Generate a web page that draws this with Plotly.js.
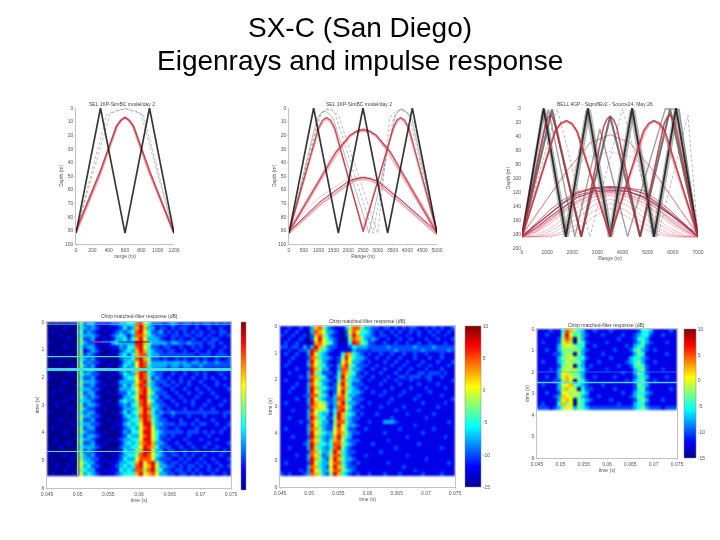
<!DOCTYPE html>
<html><head><meta charset="utf-8">
<script src="https://cdn.plot.ly/plotly-3.0.1.min.js"></script>
<style>html,body{margin:0;padding:0;background:#fff}
.main-svg .cartesianlayer{filter:blur(0.55px)}
.main-svg .heatmaplayer image{filter:blur(0.8px)}
</style></head>
<body><div id="c" style="width:720px;height:540px"></div>
<script>
// ---------- eigenray panels: range / depth ----------
const a_black_x=[0,300,600,900,1200], a_black_y=[92,0,92,0,92];
const a_dash1_x=[0,420,600,795,1200], a_dash1_y=[91,4,0.5,4,92];
const a_dash2_x=[0,375,480,600,720,825,1200], a_dash2_y=[91,5,2,0.5,2,5,92];
const a_red1_x=[0,294,498,550,600,650,702,906,1200], a_red1_y=[90,47,13,9,7,9,13,47,92];
const a_red2_x=[0,294,498,550,600,650,702,906,1200], a_red2_y=[92,49,14,9,7,9,14,49,92];

const b_black_x=[0,833,1667,2500,3333,4167,5000], b_black_y=[92,0,92,0,92,0,92];
const b_gray1_x=[0,989,1130,1270,1410,1551,2843,3517,3650,3775,3900,4056,5000], b_gray1_y=[92,8,3,0.5,1,4,92,8,3,0.5,2,5,92];
const b_gray2_x=[0,1050,1200,1350,1500,1680,3000,3400,3570,3750,3950,4250,5000], b_gray2_y=[92,6,2,1,2,6,92,7,3,1,3,12,92];
const b_gray3_x=[0,930,1060,1200,1340,1500,2700,3600,3720,3850,3980,4150,5000], b_gray3_y=[92,9,4,2,4,8,92,5,2,1,3,8,92];
const b_redA_x=[0,989,1130,1270,1410,1551,2506,3517,3640,3775,3910,4056,5000], b_redA_y=[91,15,9,7,9,15,91,15,9,7,9,15,91];
const b_redA2_x=[0,1020,1150,1270,1390,1520,2506,3540,3660,3775,3890,4020,5000], b_redA2_y=[92,15,10,8,10,15,89,15,10,8,10,15,92];
const b_redB_x=[0,1607,2056,2280,2506,2730,2955,3404,5000], b_redB_y=[91,32,20,17,16,17,20,32,92];
const b_redB2_x=[0,1550,2056,2280,2506,2730,2955,3450,5000], b_redB2_y=[90,33,21,18,17,18,21,33,90];
const b_redB3_x=[0,1650,2056,2280,2506,2730,2955,3350,5000], b_redB3_y=[92,33,21,17,15,17,21,33,93];
const b_redC_x=[0,1045,2000,2250,2506,2760,3011,3854,5000], b_redC_y=[91,69,54,52,51,52,54,69,91];
const b_redC2_x=[0,1045,2000,2250,2506,2760,3011,3854,5000], b_redC2_y=[92,71,56,53,52,53,56,71,93];
const b_redC3_x=[0,1000,1900,2250,2506,2850,3200,4100,5000], b_redC3_y=[88,66,53,51,50,52,56,74,92];

const c_blackA_x=[0,860,1746,2620,3506,4379,5252,6125,7000], c_blackA_y=[184,0,184,0,184,0,184,0,184];
const c_blackA2_x=[0,900,1800,2680,3560,4440,5300,6180,7000], c_blackA2_y=[184,2,184,2,184,2,184,2,184];
const c_blackA3_x=[0,820,1690,2560,3450,4320,5200,6070,7000], c_blackA3_y=[184,3,184,3,184,3,184,3,184];
const c_blackB_x=[0,1190,2355,3506,4697,5887,7000], c_blackB_y=[184,2,184,12,184,2,184];
const c_blackC_x=[0,1050,2100,3100,4200,5700,6250,7000], c_blackC_y=[184,2,184,30,184,1,2,184];
const c_gray1_x=[0,1400,2700,4000,5400,6600,7000], c_gray1_y=[184,1,184,1,184,10,184];
const c_redF_x=[0,940,1030,1125,1220,1310,2355,3250,3380,3506,3630,3760,4697,5640,5760,5870,5990,6100,7000], c_redF_y=[184,24,14,10,14,24,184,26,16,12,16,26,184,24,14,10,14,24,184];
const c_redE_x=[0,1323,1540,1760,1980,2183,3506,4829,5040,5252,5470,5689,7000], c_redE_y=[184,33,22,18,22,33,184,33,22,18,22,33,184];
const c_redE2_x=[0,1290,1530,1760,1990,2210,3506,4860,5060,5252,5450,5650,7000], c_redE2_y=[184,35,23,19,23,35,182,35,23,19,23,35,184];
const c_redG_x=[0,1786,2700,3506,4300,5225,7000], c_redG_y=[181,90,50,38,50,90,181];
const c_redH_x=[0,1500,2500,3506,4500,5500,7000], c_redH_y=[184,104,72,62,72,104,184];
const fan_x=[0,600,1125,1650,2183,2850,3506,4170,4829,5350,5887,6450,7000];
const fan1_y=[184,166,150,135,122,115,113,115,122,135,150,166,184];
const fan2_y=[184,170,155,141,128,120,118,119,126,138,152,168,184];
const fan3_y=[184,163,145,131,120,114,112,114,118,131,146,165,184];
const fan4_y=[184,174,160,143,128,119,116,119,128,143,160,174,184];
const fan5_y=[184,177,165,150,135,123,118,123,135,150,165,177,184];
const fan6_y=[184,181,172,158,142,127,120,127,140,158,172,181,184];
const fan7_y=[184,183,176,164,150,132,125,132,148,164,176,183,184];
const fan8_y=[184,184,180,170,158,139,130,139,156,170,180,184,184];
const fan9_y=[184,184,183,176,166,147,136,147,165,176,182,184,184];
const fan10_y=[184,184,184,180,174,155,143,155,172,180,184,184,184];
const fan11_y=[184,172,158,146,133,123,121,123,131,144,157,171,184];
const fan12_y=[184,176,162,148,137,127,124,126,136,148,162,175,184];
const fanBlue_y=[182,165,150,136,125,118,115,118,128,140,152,167,180];

// ---------- matched-filter maps: colour level 0..10 (2.5 dB a step from -15 dB) read cell by cell ----------
const h1 = [
[0,0,1,0,0,0,1,0, 5, 2,3,3,1, 1,1,1,2,2, 3,3,4,4, 8,9,6,4,2, 2,2,1,2,3,2,1,2,2,1,2,1,2,2,1,2,1,2,1],
[0,0,0,0,1,0,0,0, 4, 3,2,3,2, 1,0,1,1,1, 2,4,2,3, 7,9,7,3,3, 1,2,2,1,2,1,2,2,1,1,2,1,1,2,1,1,2,1,1],
[0,1,0,0,0,0,0,1, 5, 2,3,2,1, 0,1,0,1,2, 3,2,3,4, 8,9,6,4,2, 2,3,1,2,1,2,1,2,1,2,1,2,1,1,2,1,2,2,1],
[0,0,0,1,0,0,0,0, 4, 3,3,3,2, 1,0,1,2,3, 4,3,1,3, 8,8,7,4,3, 2,2,2,1,2,2,1,2,2,1,2,2,1,2,1,1,2,1,2],
[0,0,0,0,0,1,0,0, 5, 2,2,3,1, 0,1,0,1,3, 3,4,2,4, 7,9,6,3,3, 3,2,1,1,2,1,2,1,1,2,1,1,2,1,2,2,1,1,1],
[1,0,0,0,0,0,0,0, 5, 3,2,2,1, 1,1,1,3,4, 3,3,3,3, 9,9,7,5,3, 3,3,3,2,3,3,2,2,3,2,2,2,1,2,2,1,2,1,1],
[0,0,0,0,1,0,0,1, 4, 2,3,3,1, 0,0,1,1,1, 3,2,4,4, 8,9,6,4,2, 2,1,2,2,1,1,2,1,1,2,1,2,1,1,2,1,1,2,1],
[0,0,0,0,0,0,0,0, 5, 1,2,3,2, 1,0,0,1,0, 2,3,4,3, 7,9,7,4,3, 2,2,1,2,2,1,1,2,1,1,2,1,1,2,1,1,2,1,1],
[0,1,0,0,0,1,0,0, 5, 2,3,2,1, 0,0,1,0,1, 3,4,2,4, 7,8,8,4,3, 3,2,2,2,2,2,2,2,2,2,1,2,2,2,1,2,2,2,1],
[0,0,0,0,0,0,0,0, 4, 3,2,3,1, 0,1,0,0,0, 2,3,3,4, 8,9,7,5,2, 2,1,2,1,1,2,1,2,1,1,2,1,2,1,1,2,1,1,2],
[0,0,0,1,0,0,0,0, 5, 2,3,2,2, 1,0,0,1,0, 1,3,4,3, 6,9,8,5,3, 3,3,3,3,3,3,3,3,2,3,3,2,3,2,2,3,2,2,2],
[0,0,0,0,0,0,1,0, 5, 3,2,3,1, 0,0,1,0,0, 2,4,3,3, 6,9,8,4,3, 3,3,3,2,3,3,2,3,3,2,2,3,2,2,2,2,2,2,2],
[0,0,1,0,0,0,0,0, 4, 2,3,3,1, 0,1,0,0,1, 3,3,2,4, 7,8,9,5,3, 2,2,2,1,2,2,1,2,1,2,2,1,2,1,1,2,1,2,1],
[0,0,0,0,0,1,0,0, 5, 3,3,2,2, 1,0,0,1,0, 2,4,3,3, 7,9,8,4,3, 2,2,1,1,2,1,1,2,1,1,2,1,2,1,1,1,2,1,1],
[1,0,0,0,0,0,0,0, 4, 2,2,3,1, 0,0,1,0,0, 1,3,4,4, 6,9,8,5,2, 3,2,1,2,1,1,2,1,1,2,1,1,2,1,2,1,1,2,1],
[0,0,0,0,1,0,0,0, 5, 3,3,3,2, 1,0,0,0,1, 3,3,3,3, 6,8,9,5,3, 2,2,2,1,2,1,2,1,2,1,1,2,1,1,1,2,1,1,1],
[0,0,0,0,0,0,0,1, 5, 2,2,3,1, 0,1,0,1,0, 2,4,2,4, 7,9,8,4,3, 2,1,2,2,1,2,1,1,2,1,1,1,2,1,1,2,1,2,1],
[0,0,0,1,0,0,0,0, 4, 3,3,2,2, 1,0,0,0,0, 3,3,3,4, 6,8,9,6,3, 3,2,1,1,2,1,1,2,1,1,2,1,1,2,1,1,1,1,2],
[0,1,0,0,0,0,0,0, 5, 2,3,3,1, 0,0,1,0,1, 2,2,4,3, 5,8,9,6,4, 2,2,2,1,1,2,1,1,2,1,1,2,1,1,2,1,1,1,1],
[0,0,0,0,0,0,1,0, 5, 3,2,3,2, 1,0,0,0,0, 1,3,3,4, 6,9,9,5,3, 3,1,2,2,1,1,2,1,1,1,2,1,1,1,1,2,1,1,1],
[0,0,0,0,1,0,0,0, 4, 3,3,2,1, 0,0,1,0,0, 3,4,3,3, 5,8,9,6,4, 2,2,1,1,2,1,1,2,1,2,1,1,1,2,1,1,1,2,1],
[0,0,1,0,0,0,0,0, 5, 2,3,3,2, 1,0,0,0,1, 2,3,2,4, 5,8,9,7,3, 3,2,2,1,1,2,1,1,1,2,1,1,2,1,1,1,2,1,1],
[0,0,0,0,0,1,0,0, 5, 3,2,2,1, 0,1,0,0,0, 1,3,3,3, 4,7,9,8,4, 3,2,1,2,1,1,1,2,1,1,1,2,1,1,2,1,1,1,1],
[1,0,0,0,0,0,0,0, 4, 2,3,3,1, 0,0,0,1,0, 2,4,2,4, 5,7,9,7,4, 2,3,2,2,3,2,2,2,2,2,2,2,2,2,2,2,1,2,2],
[0,0,0,0,0,0,0,1, 5, 3,3,2,2, 1,0,0,0,0, 1,3,4,3, 4,8,9,8,4, 3,2,1,1,2,1,1,1,2,1,1,1,2,1,1,1,1,2,1],
[0,0,0,1,0,0,0,0, 5, 2,2,3,1, 0,0,1,0,0, 1,2,3,4, 4,7,9,8,5, 3,2,2,1,1,1,2,1,1,1,2,1,1,1,2,1,1,1,1],
[0,0,0,0,0,0,1,0, 4, 3,3,2,2, 1,0,0,0,1, 1,3,4,3, 4,6,9,9,5, 3,3,2,2,2,1,2,2,1,2,1,2,2,1,1,2,1,1,2],
[0,1,0,0,0,0,0,0, 5, 2,3,3,1, 0,0,0,1,0, 1,2,3,4, 3,6,8,9,6, 3,2,2,1,1,2,1,1,1,1,2,1,1,1,1,1,1,2,1],
[0,0,0,0,1,0,0,0, 5, 3,2,2,1, 0,1,0,0,0, 1,3,2,4, 4,6,9,9,6, 4,3,2,2,2,2,2,1,2,2,2,1,2,1,2,1,2,1,1],
[0,0,0,0,0,0,0,0, 4, 2,3,3,2, 1,0,0,0,0, 1,2,4,3, 3,6,8,9,6, 4,2,2,1,2,1,1,1,2,1,1,1,1,2,1,1,1,1,1],
[0,0,1,0,0,0,0,1, 5, 3,3,2,1, 0,0,1,0,1, 2,3,3,4, 4,6,9,9,6, 4,2,1,2,1,1,1,2,1,1,1,2,1,1,1,2,1,1,1],
[0,0,0,0,0,1,0,0, 5, 2,2,3,1, 0,1,0,0,0, 1,3,4,3, 4,7,8,9,7, 3,3,2,1,1,2,1,1,2,1,1,1,1,2,1,1,1,1,2],
[0,0,0,1,0,0,0,0, 4, 3,3,3,2, 1,0,0,0,0, 2,3,3,4, 4,6,9,8,7, 4,2,2,2,1,1,2,1,1,2,1,1,2,1,1,2,1,1,1],
[1,0,0,0,0,0,0,0, 5, 2,3,2,1, 0,0,1,0,1, 1,4,3,3, 5,7,9,9,6, 3,3,1,2,2,1,1,2,1,1,2,1,1,1,2,1,1,2,1],
[0,0,0,0,1,0,0,0, 5, 3,2,3,1, 1,0,0,1,0, 2,3,4,4, 5,8,9,8,6, 4,3,2,1,2,2,1,2,1,2,1,1,2,1,1,1,2,1,1],
[0,1,0,0,0,0,1,0, 5, 3,3,2,2, 0,1,0,0,1, 2,4,3,3, 6,8,8,8,6, 3,2,2,2,1,1,2,1,2,1,1,2,1,1,2,1,1,1,2],
[0,0,0,0,0,0,0,0, 6, 4,3,3,1, 1,0,1,1,1, 3,3,4,4, 7,9,6,8,9, 5,3,2,1,2,2,1,2,1,1,2,1,2,1,1,2,1,1,1],
[0,0,1,0,0,1,0,0, 6, 3,4,2,2, 1,0,0,1,2, 3,4,3,4, 8,9,6,7,9, 6,3,3,2,2,1,2,1,2,2,1,2,1,2,1,1,2,1,2],
[0,0,0,0,1,0,0,1, 5, 4,3,3,1, 0,1,1,1,1, 4,3,4,3, 8,8,5,8,9, 5,4,2,2,1,2,2,1,2,1,2,1,1,2,1,2,1,1,1],
[0,1,0,0,0,0,1,0, 6, 3,4,3,2, 1,0,1,1,2, 3,4,4,4, 7,9,6,7,8, 6,3,3,2,2,1,2,2,1,2,1,2,1,1,2,1,1,2,1]
];
const h2 = [
[1,1,2,1,1,2,1, 1,3,7,8,5,3, 2,1,1,1,3,5,8,8,5,3,3,2, 2,1,2,2,1,2,1,2,1,2,2,1,1,2,1,2,1,2,1,1,2],
[1,2,1,1,2,1,1, 0,3,8,7,6,3, 3,2,1,0,2,6,8,6,4,4,3,2, 1,2,1,1,2,1,2,1,1,2,1,2,1,1,2,1,2,1,1,2,1],
[2,1,1,2,1,1,2, 0,2,7,8,5,4, 2,1,1,0,2,5,9,7,4,3,3,2, 1,2,2,1,1,2,1,1,2,1,1,2,1,1,1,2,1,1,2,1,1],
[1,1,2,1,1,2,1, 0,2,6,9,6,4, 3,2,1,0,1,5,8,7,5,3,2,3, 2,1,1,2,1,1,2,1,1,2,1,1,1,2,1,1,2,1,1,1,2],
[1,2,1,1,2,1,1, 0,1,7,8,6,5, 4,2,1,0,1,4,9,8,5,4,2,2, 1,1,2,1,1,2,1,1,2,1,1,2,1,1,2,1,1,1,2,1,1],
[2,2,1,2,2,1,3, 1,3,9,7,5,3, 2,2,1,1,1,2,4,3,3,3,2,2, 2,2,2,3,2,2,2,2,2,2,3,2,2,2,2,3,2,2,2,2,2],
[1,1,2,1,1,2,2, 3,9,8,5,4,3, 2,1,1,1,1,1,3,2,2,2,1,2, 2,2,2,2,2,3,2,2,2,2,2,2,3,2,2,2,2,2,2,3,2],
[1,2,1,1,2,1,1, 3,9,6,4,3,2, 1,1,1,4,8,7,4,3,2,1,2,1, 1,2,1,1,2,1,1,2,1,1,2,1,1,2,1,1,1,2,1,1,1],
[1,1,1,2,1,1,1, 2,8,7,4,3,3, 2,1,2,5,9,6,4,3,3,2,1,1, 2,1,1,2,1,1,2,1,1,1,2,1,1,1,2,1,1,2,1,1,1],
[1,1,2,1,1,1,1, 3,9,6,5,3,2, 1,1,2,6,8,6,3,3,2,1,2,1, 1,1,2,1,1,2,1,1,2,1,1,1,2,1,1,1,2,1,1,1,2],
[1,2,1,1,1,1,1, 3,8,6,4,4,2, 2,1,3,7,9,5,4,2,2,2,1,1, 2,1,1,1,2,1,1,2,1,1,1,2,1,1,2,1,1,1,1,2,1],
[1,1,1,1,2,1,1, 2,9,7,5,3,3, 1,1,3,8,8,5,3,3,2,1,1,2, 1,1,2,1,1,1,2,1,1,2,1,1,1,2,1,1,1,2,1,1,1],
[1,1,2,1,1,1,1, 3,9,5,4,2,2, 2,1,4,8,7,5,4,2,1,2,1,1, 1,2,1,1,1,2,1,1,2,1,1,2,2,1,2,2,2,1,2,1,1],
[1,1,1,1,1,2,1, 3,8,7,5,4,2, 1,2,4,9,6,4,3,2,2,1,1,2, 1,1,1,2,1,1,2,2,1,2,2,2,1,2,2,1,1,2,1,1,1],
[1,2,1,1,1,1,1, 2,9,6,4,3,3, 2,1,5,8,7,4,3,3,1,1,2,1, 1,1,2,1,1,2,1,1,1,2,1,1,1,1,2,1,1,1,1,1,2],
[1,1,1,1,2,1,1, 3,8,6,5,3,2, 1,2,5,9,6,4,2,2,2,1,1,1, 1,2,1,1,1,1,2,1,1,1,1,2,1,1,1,1,2,1,1,1,1],
[1,1,1,2,1,1,1, 3,9,7,4,4,3, 2,2,6,8,7,4,3,2,1,2,1,1, 1,1,1,1,2,1,1,1,1,2,1,1,1,2,1,1,1,1,2,1,1],
[1,1,2,1,1,1,1, 3,9,6,5,3,2, 1,2,6,9,5,4,3,3,2,1,1,2, 1,1,2,1,1,1,1,2,1,1,1,1,1,1,2,1,1,1,1,1,1],
[1,1,1,1,1,1,2, 2,8,8,5,4,3, 1,3,7,8,6,3,3,2,1,1,1,1, 1,2,1,1,1,1,2,1,1,1,1,2,1,1,1,1,1,2,1,1,1],
[1,1,1,1,2,1,1, 3,9,6,4,3,2, 2,3,8,8,5,4,2,2,2,1,1,1, 1,1,1,1,2,1,1,1,1,1,2,1,1,1,1,1,1,1,1,1,2],
[1,2,1,1,1,1,1, 3,9,7,6,5,3, 2,3,7,9,5,3,3,2,1,1,2,1, 1,1,1,2,1,1,1,1,1,1,1,1,2,1,1,1,1,1,2,1,1],
[1,1,1,1,1,1,1, 2,8,7,6,6,3, 1,3,8,8,6,4,2,1,2,1,1,1, 1,2,1,1,1,1,1,2,1,1,1,1,1,1,1,1,2,1,1,1,1],
[1,1,1,2,1,1,1, 3,9,6,5,5,4, 2,4,8,9,5,3,2,2,1,1,1,1, 1,1,1,1,1,2,1,1,1,1,1,2,1,1,1,1,1,1,1,1,1],
[1,1,1,1,1,1,1, 3,8,6,4,3,3, 1,4,9,7,5,4,3,1,2,1,1,1, 2,1,1,1,1,1,1,1,2,1,1,1,1,1,1,2,1,1,1,1,1],
[1,1,2,1,1,1,1, 3,9,7,4,4,2, 2,5,9,7,4,3,2,2,1,1,1,1, 1,1,1,1,2,1,1,1,1,1,1,1,1,2,1,1,1,1,1,1,1],
[1,1,1,1,1,2,1, 2,8,6,5,3,3, 1,5,8,8,5,3,2,1,1,1,2,1, 1,1,3,3,3,2,1,1,1,1,1,1,1,1,1,1,1,1,1,2,1],
[1,1,1,1,1,1,1, 3,9,6,4,3,2, 2,5,9,6,4,3,3,2,1,1,1,1, 1,1,1,1,1,1,1,1,1,1,2,1,1,1,1,1,1,1,1,1,1],
[1,2,1,1,1,1,1, 3,8,7,5,3,2, 2,6,8,6,4,2,2,1,1,2,1,1, 1,1,1,1,1,1,2,1,1,1,1,1,1,1,1,2,1,1,1,1,1],
[1,1,1,1,1,1,1, 3,9,6,5,4,3, 3,6,8,7,5,3,2,2,1,1,1,1, 1,1,2,1,1,1,1,1,1,1,1,1,2,1,1,1,1,1,1,1,1],
[1,1,1,2,1,1,1, 2,9,7,4,3,2, 3,7,9,5,4,3,1,1,1,1,1,1, 1,1,1,1,1,1,1,1,2,1,1,1,1,1,1,1,1,1,2,1,1],
[1,1,1,1,1,1,1, 3,8,6,5,3,2, 4,7,8,6,3,2,2,2,1,1,1,1, 1,1,1,2,1,1,1,1,1,1,1,1,1,1,1,1,1,1,1,1,1],
[1,1,1,1,1,1,2, 3,9,7,4,4,3, 4,8,8,5,4,3,2,1,1,1,1,2, 1,1,1,1,1,1,1,1,1,1,1,2,1,1,1,1,1,1,1,1,1],
[1,1,2,1,1,1,1, 3,9,5,4,3,2, 4,8,9,5,3,2,1,1,1,1,1,1, 1,1,1,1,1,2,1,1,1,1,1,1,1,1,1,1,1,2,1,1,1],
[1,1,1,1,1,1,1, 2,8,7,5,3,3, 5,9,7,4,3,2,2,1,1,1,1,1, 1,2,1,1,1,1,1,1,1,1,1,1,1,1,1,1,1,1,1,1,1],
[1,1,1,1,2,1,1, 3,8,6,4,2,3, 5,8,8,4,3,2,1,1,1,2,1,1, 1,1,1,1,1,1,1,1,2,1,1,1,1,1,1,1,1,1,1,1,1],
[1,1,1,1,1,1,1, 3,9,7,5,3,2, 6,9,7,5,3,3,2,1,1,1,1,1, 1,1,1,1,1,1,1,1,1,1,1,1,1,2,1,1,1,1,1,1,1],
[1,2,1,1,1,1,1, 2,9,6,4,3,3, 6,8,8,4,3,2,1,2,1,1,1,1, 1,1,1,2,1,1,1,1,1,1,1,1,1,1,1,1,1,1,1,2,1],
[1,1,1,1,1,1,1, 3,8,7,4,3,2, 6,9,7,5,3,2,2,1,1,1,1,1, 1,1,1,1,1,1,1,2,1,1,1,1,1,1,1,1,1,1,1,1,1],
[1,1,1,1,1,2,1, 3,9,6,5,3,3, 6,8,8,5,4,3,2,1,1,1,1,1, 1,1,1,1,1,1,1,1,1,1,2,1,1,1,1,1,1,1,1,1,1],
[2,1,2,1,1,1,2, 3,8,7,5,3,2, 5,9,7,4,3,2,1,2,1,1,2,1, 1,1,2,1,1,1,2,1,1,1,1,1,2,1,1,1,1,2,1,1,1]
];
const h3 = [
[1,1,1,2,1,1, 4,8,7,5,4,3, 1,1,2,1,1,1,2,1,1,1,1,1,1,2, 4,4,3,1,1,1,1,2,1],
[1,1,2,1,1,1, 5,9,6,4,5,3, 2,1,1,1,2,1,1,1,1,2,1,1,2,3, 4,4,2,1,1,2,1,1,1],
[1,1,1,1,1,2, 5,8,7,0,5,3, 1,1,1,1,1,1,1,1,2,1,1,1,2,4, 4,3,1,1,1,1,1,1,1],
[1,2,1,1,1,2, 6,7,5,0,5,4, 2,1,1,1,1,2,1,1,1,1,1,1,2,3, 5,3,2,1,1,1,2,1,1],
[1,1,1,1,1,3, 5,6,6,5,4,4, 1,1,2,1,1,1,1,1,1,1,2,1,3,4, 4,2,1,1,1,1,1,1,1],
[1,1,2,1,1,3, 5,5,5,5,5,3, 2,1,1,1,1,1,1,2,1,1,1,2,4,5, 3,2,1,2,1,1,1,1,1],
[1,1,1,1,2,2, 4,6,5,0,5,3, 1,1,1,1,2,1,1,1,1,1,1,1,3,5, 4,1,1,1,1,1,2,1,1],
[1,1,1,1,1,3, 5,5,6,5,4,4, 2,1,1,1,1,1,2,1,1,1,1,3,4,4, 3,2,1,1,1,1,1,1,1],
[1,2,1,1,1,3, 4,6,5,5,5,3, 1,1,1,2,1,1,1,1,1,1,2,3,4,5, 3,1,1,2,1,1,1,1,1],
[1,1,1,1,1,2, 5,5,6,0,4,3, 1,2,1,1,1,1,1,1,2,1,1,2,4,5, 4,2,1,1,1,1,1,1,1],
[1,1,1,2,1,3, 5,6,5,6,5,4, 2,1,1,1,1,2,1,1,1,1,1,1,3,4, 5,2,1,1,1,2,1,1,1],
[1,1,1,1,1,3, 6,6,5,5,4,3, 1,1,1,1,1,1,1,1,1,2,1,1,3,5, 4,2,1,1,1,1,1,1,1],
[1,1,2,1,1,3, 6,7,6,5,5,3, 1,1,2,1,1,1,1,2,1,1,1,1,2,4, 4,3,1,1,1,1,2,1,1],
[1,1,1,1,2,2, 5,7,6,0,5,4, 2,1,1,1,1,1,1,1,1,1,2,1,3,4, 5,2,1,2,1,1,1,1,1],
[1,2,1,1,1,3, 6,6,7,5,4,3, 2,1,1,1,2,1,1,1,1,1,1,1,2,5, 4,3,1,1,1,1,1,1,1],
[1,1,1,1,1,3, 5,7,6,5,0,4, 2,2,1,1,1,1,1,2,1,1,1,1,2,4, 5,2,1,1,1,1,1,2,1],
[1,1,2,1,1,2, 6,6,5,6,5,4, 3,1,1,1,1,1,1,1,1,2,1,1,3,4, 4,3,2,1,1,1,1,1,1],
[1,1,1,1,2,3, 7,6,6,5,5,3, 2,1,1,2,1,1,1,1,1,1,1,2,3,5, 4,2,1,1,1,1,1,1,1],
[1,1,1,1,1,3, 6,7,6,0,5,4, 3,2,1,1,1,1,2,1,1,1,1,1,2,4, 5,3,1,1,1,2,1,1,1],
[1,2,1,1,1,4, 7,5,6,0,5,4, 2,1,1,1,1,1,1,1,2,1,1,1,3,4, 4,2,1,1,1,1,1,1,1],
[2,2,2,1,2,3, 5,6,6,3,5,4, 3,2,2,2,2,2,2,2,2,2,2,2,3,4, 5,3,2,2,2,1,2,2,2]
];
// time axes and the narrow horizontal / vertical streaks of the first and third maps
const h1_streaks=[0.08,1.25,1.72,4.68], h1_widths=[1,1.4,3,1.2];
const h3_streaks=[2.0,2.49], h3_widths=[0.8,1.4];
const h1_arrival=[0.05,0.05], h1_spans=[0,5.55];
const h1_spot_x=[0.0538,0.0565], h1_spot_y=[0.72,0.72];
const h1_dark_x=[0.0565,0.0618], h1_dark_y=[0.72,0.72];
const h1_hot_x=[0.0525,0.0538], h1_hot_y=[0.72,0.72];
const t_ticks=[0.045,0.05,0.055,0.06,0.065,0.07,0.075];
const t_labels=['0.045','0.05','0.055','0.06','0.065','0.07','0.075'];
const s_ticks=[0,1,2,3,4,5,6];
const depth100=[0,10,20,30,40,50,60,70,80,90,100];
const depth200=[0,20,40,60,80,100,120,140,160,180,200];
const range_a=[0,200,400,600,800,1000,1200];
const range_b=[0,500,1000,1500,2000,2500,3000,3500,4000,4500,5000];
const range_c=[0,1000,2000,3000,4000,5000,6000,7000];
const level_ticks=[0,2,4,6,8,10], db_labels=['-15','-10','-5','0','5','10'];

const jet=[[0,'#00008f'],[0.125,'#0000ff'],[0.375,'#00ffff'],[0.625,'#ffff00'],[0.875,'#ff0000'],[1,'#800000']];
const W=720,H=540;
const dx=(l,r)=>[l/W,r/W], dy=(t,b)=>[1-b/H,1-t/H];
const BLACK='rgba(20,20,20,0.85)', GRAY='rgba(110,110,110,0.6)', RED='rgba(185,40,55,0.8)', DRED='rgba(150,20,40,0.9)', PINK='rgba(225,110,125,0.55)';
function ray(x,y,ax,color,w,dash){return {type:'scatter',mode:'lines',x:x,y:y,xaxis:'x'+ax,yaxis:'y'+ax,hoverinfo:'skip',showlegend:false,line:{color:color,width:w,dash:dash||'solid'}};}
function map(z,ax,bar){return {type:'heatmap',z:z,x0:0.045+0.03/(2*z[0].length),dx:0.03/z[0].length,y0:bar.dy/2,dy:bar.dy,xaxis:'x'+ax,yaxis:'y'+ax,zmin:0,zmax:10,colorscale:jet,hoverinfo:'skip',
 colorbar:{x:bar.l/W,xanchor:'left',xpad:0,ypad:0,thickness:bar.w,thicknessmode:'pixels',y:1-bar.b/H,yanchor:'bottom',len:(bar.b-bar.t)/H,lenmode:'fraction',tickvals:level_ticks,ticktext:db_labels,showticklabels:bar.labels,ticks:'',outlinewidth:0.5,outlinecolor:'#888',tickfont:{size:5,color:'#555',family:'Liberation Sans'}}};}
const streak=(t,w,ax,c)=>ray([t_ticks[0],t_ticks[6]],[t,t],ax,c,w);

const data=[
 ray(a_dash1_x,a_dash1_y,1,GRAY,0.8,'3px,2px'), ray(a_dash2_x,a_dash2_y,1,GRAY,0.8,'3px,2px'),
 ray(a_red2_x,a_red2_y,1,PINK,2.4), ray(a_red1_x,a_red1_y,1,RED,1.6), ray(a_black_x,a_black_y,1,BLACK,1.7),

 ray(b_gray1_x,b_gray1_y,2,GRAY,0.8,'3px,2px'), ray(b_gray2_x,b_gray2_y,2,GRAY,0.8,'3px,2px'), ray(b_gray3_x,b_gray3_y,2,GRAY,0.8),
 ray(b_redC3_x,b_redC3_y,2,PINK,0.7), ray(b_redC2_x,b_redC2_y,2,PINK,2.4), ray(b_redC_x,b_redC_y,2,DRED,1),
 ray(b_redB3_x,b_redB3_y,2,PINK,1.2), ray(b_redB2_x,b_redB2_y,2,PINK,1.8), ray(b_redB_x,b_redB_y,2,RED,1.3),
 ray(b_redA2_x,b_redA2_y,2,PINK,1.6), ray(b_redA_x,b_redA_y,2,RED,1.3), ray(b_black_x,b_black_y,2,BLACK,1.7),

 ray(c_gray1_x,c_gray1_y,3,GRAY,0.8,'3px,2px'),
 ray(fan_x,fan10_y,3,PINK,0.8), ray(fan_x,fan9_y,3,PINK,0.8), ray(fan_x,fan8_y,3,PINK,0.8), ray(fan_x,fan7_y,3,PINK,0.8), ray(fan_x,fan6_y,3,PINK,0.8), ray(fan_x,fan5_y,3,PINK,0.9), ray(fan_x,fan12_y,3,PINK,0.9), ray(fan_x,fan4_y,3,PINK,1.1),
 ray(fan_x,fan11_y,3,PINK,1.4), ray(fan_x,fan3_y,3,RED,0.9), ray(fan_x,fan2_y,3,RED,1.2), ray(fan_x,fan1_y,3,RED,1.3), ray(fan_x,fanBlue_y,3,'rgba(70,50,170,0.75)',0.9),
 ray(c_redG_x,c_redG_y,3,RED,0.7), ray(c_redH_x,c_redH_y,3,PINK,0.6),
 ray(c_blackB_x,c_blackB_y,3,'rgba(60,60,60,0.7)',2.2), ray(c_blackC_x,c_blackC_y,3,'rgba(70,70,70,0.5)',1.4),
 ray(c_blackA3_x,c_blackA3_y,3,'rgba(110,110,110,0.45)',2.2), ray(c_blackA2_x,c_blackA2_y,3,'rgba(110,110,110,0.5)',3), ray(c_blackA_x,c_blackA_y,3,BLACK,1.8),
 ray(c_redE2_x,c_redE2_y,3,PINK,2.4), ray(c_redE_x,c_redE_y,3,RED,1.6), ray(c_redF_x,c_redF_y,3,RED,1.6),

 map(h1,4,{dy:5.55/h1.length,l:241,w:5,t:322,b:490,labels:false}),
 map(h2,5,{dy:5.6/h2.length,l:465,w:16,t:326,b:487,labels:true}),
 map(h3,6,{dy:3.75/h3.length,l:684,w:12,t:329,b:458,labels:true}),
 ray(h1_arrival,h1_spans,4,'rgba(170,235,110,0.9)',1.6),
 ray(h1_spot_x,h1_spot_y,4,'rgba(60,210,255,0.9)',1),
 ray(h1_dark_x,h1_dark_y,4,'rgba(30,40,110,0.85)',1),
 ray(h1_hot_x,h1_hot_y,4,'rgba(235,40,90,0.95)',1.3),
 streak(h1_streaks[0],h1_widths[0],4,'rgba(60,225,215,0.85)'), streak(h1_streaks[1],h1_widths[1],4,'rgba(70,230,215,0.95)'),
 streak(h1_streaks[2],h1_widths[2],4,'rgba(70,230,215,0.95)'), streak(h1_streaks[3],h1_widths[3],4,'rgba(100,230,200,0.95)'),
 streak(h3_streaks[0],h3_widths[0],6,'rgba(50,170,240,0.7)'), streak(h3_streaks[1],h3_widths[1],6,'rgba(80,225,235,0.95)')
];

const tf={size:5,color:'#555',family:'Liberation Sans'};
function xa(dom,range,ticks,text,title,box,anchor,line){const o={domain:dom,range:range,tickvals:ticks,showgrid:false,zeroline:false,showline:line,linecolor:'#999',linewidth:0.6,mirror:box,ticks:line?'outside':'',ticklen:1,tickwidth:0.4,tickcolor:'#999',tickfont:tf,tickangle:0,title:{text:title,font:tf,standoff:1},anchor:anchor,automargin:false};if(text)o.ticktext=text;return o;}
function ya(dom,range,ticks,title,box,anchor,line){return {domain:dom,range:range,tickvals:ticks,showgrid:false,zeroline:false,showline:line,linecolor:'#999',linewidth:0.6,mirror:box,ticks:line?'outside':'',ticklen:1,tickwidth:0.4,tickcolor:'#999',tickfont:tf,tickangle:0,title:{text:title,font:tf,standoff:1},anchor:anchor,automargin:false};}
const note=(x,y,text)=>({xref:'paper',yref:'paper',x:x/W,y:1-y/H,text:text,showarrow:false,font:{size:5,color:'#444',family:'Liberation Sans'},xanchor:'center',yanchor:'middle'});
const head=(y,text)=>({xref:'paper',yref:'paper',x:0.5,y:1-y/H,text:text,showarrow:false,font:{family:'Liberation Sans',size:28,color:'#000'},xanchor:'center',yanchor:'middle'});

const layout={
 width:W,height:H,margin:{l:0,r:0,t:0,b:0},paper_bgcolor:'#fff',plot_bgcolor:'rgba(0,0,0,0)',showlegend:false,
 xaxis:xa(dx(76,174),[0,1200],range_a,null,'range (m)',false,'y',true),
 yaxis:ya(dy(108,244),[100,0],depth100,'Depth (m)',false,'x',true),
 xaxis2:xa(dx(289,437),[0,5000],range_b,null,'Range (m)',false,'y2',true),
 yaxis2:ya(dy(108,244),[100,0],depth100,'Depth (m)',false,'x2',true),
 xaxis3:xa(dx(522,698),[0,7000],range_c,null,'Range (m)',false,'y3',false),
 yaxis3:ya(dy(108,248),[200,0],depth200,'Depth (m)',false,'x3',false),
 xaxis4:xa(dx(47,231),[0.045,0.075],t_ticks,t_labels,'time (s)',true,'y4',true),
 yaxis4:ya(dy(322,488),[6,0],s_ticks,'time (s)',true,'x4',true),
 xaxis5:xa(dx(280,455),[0.045,0.075],t_ticks,t_labels,'time (s)',true,'y5',true),
 yaxis5:ya(dy(326,487),[6,0],s_ticks,'time (s)',true,'x5',true),
 xaxis6:xa(dx(537,677),[0.045,0.075],t_ticks,t_labels,'time (s)',true,'y6',true),
 yaxis6:ya(dy(329,458),[6,0],s_ticks,'time (s)',true,'x6',true),
 annotations:[
  head(27,'SX-C (San Diego)'),
  head(60,'Eigenrays and impulse response'),
  note(122,104,'SEL 1KP-SimBC model/day 2'),
  note(359,104,'SEL 1KP-SimBC model/day 2'),
  note(605,104,'BELL 4GP - Sigm8Ev2 - Source24, May 26'),
  note(139,316,'Chirp matched-filter response (dB)'),
  note(367,321,'Chirp matched-filter response (dB)'),
  note(606,325,'Chirp matched-filter response (dB)')
 ]
};
Plotly.newPlot('c',data,layout,{staticPlot:true,displayModeBar:false});
</script></body></html>
